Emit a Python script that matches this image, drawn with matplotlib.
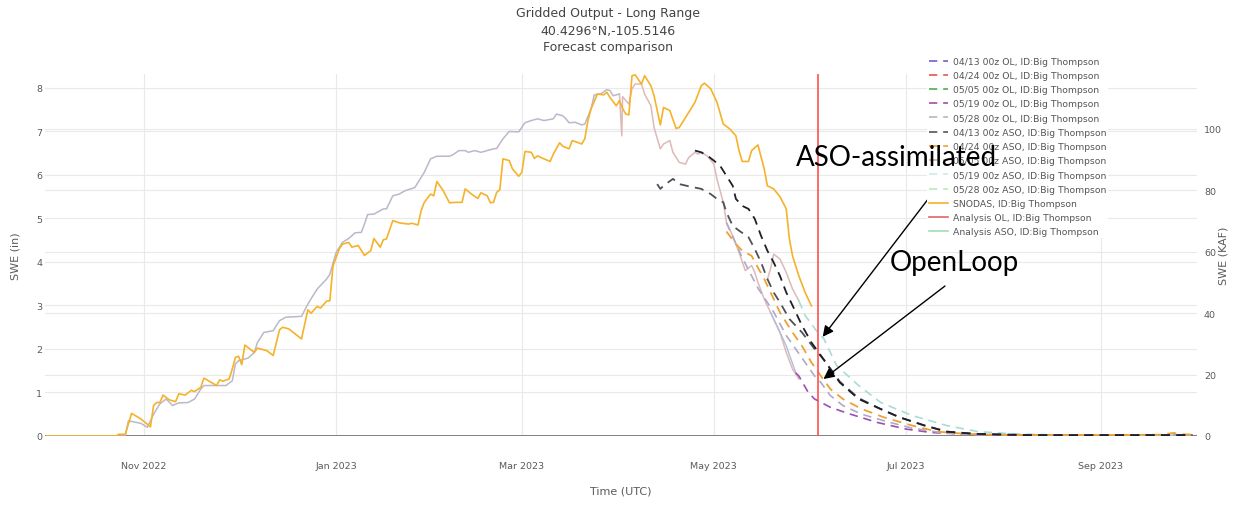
import matplotlib
matplotlib.use("Agg")
import matplotlib.pyplot as plt
import matplotlib.dates as mdates
from matplotlib.lines import Line2D
import pandas as pd

# ---------------- data ----------------
snodas_dates = ["2022-10-01","2022-10-23","2022-10-24","2022-10-26","2022-10-28","2022-10-31","2022-11-03","2022-11-04","2022-11-05","2022-11-06","2022-11-07","2022-11-09","2022-11-11","2022-11-12","2022-11-14","2022-11-16","2022-11-17","2022-11-19","2022-11-20","2022-11-24","2022-11-25","2022-11-26","2022-11-28","2022-11-29","2022-11-30","2022-12-01","2022-12-02","2022-12-03","2022-12-06","2022-12-07","2022-12-08","2022-12-10","2022-12-12","2022-12-14","2022-12-15","2022-12-17","2022-12-21","2022-12-23","2022-12-24","2022-12-26","2022-12-27","2022-12-29","2022-12-30","2022-12-31","2023-01-02","2023-01-03","2023-01-05","2023-01-06","2023-01-08","2023-01-10","2023-01-12","2023-01-13","2023-01-15","2023-01-16","2023-01-17","2023-01-19","2023-01-21","2023-01-24","2023-01-25","2023-01-27","2023-01-28","2023-01-29","2023-01-31","2023-02-01","2023-02-02","2023-02-04","2023-02-06","2023-02-08","2023-02-10","2023-02-11","2023-02-13","2023-02-15","2023-02-16","2023-02-18","2023-02-19","2023-02-20","2023-02-21","2023-02-22","2023-02-23","2023-02-25","2023-02-26","2023-02-28","2023-03-01","2023-03-02","2023-03-04","2023-03-05","2023-03-06","2023-03-08","2023-03-10","2023-03-11","2023-03-13","2023-03-14","2023-03-16","2023-03-17","2023-03-19","2023-03-20","2023-03-21","2023-03-22","2023-03-23","2023-03-25","2023-03-27","2023-03-28","2023-03-29","2023-03-31","2023-04-01","2023-04-02","2023-04-03","2023-04-04","2023-04-05","2023-04-06","2023-04-08","2023-04-09","2023-04-11","2023-04-12","2023-04-14","2023-04-15","2023-04-17","2023-04-19","2023-04-20","2023-04-22","2023-04-25","2023-04-27","2023-04-28","2023-04-30","2023-05-02","2023-05-04","2023-05-06","2023-05-08","2023-05-09","2023-05-10","2023-05-12","2023-05-13","2023-05-15","2023-05-17","2023-05-18","2023-05-20","2023-05-22","2023-05-24","2023-05-25","2023-05-26","2023-05-28","2023-05-30","2023-06-01"]
snodas_swe = [0,0,0.04,0.04,0.52,0.39,0.21,0.70,0.77,0.77,0.94,0.83,0.79,0.97,0.94,1.05,1.02,1.12,1.33,1.16,1.29,1.26,1.31,1.54,1.81,1.83,1.64,2.09,1.92,2.02,2.00,1.96,1.85,2.44,2.50,2.46,2.23,2.90,2.82,2.98,2.94,3.10,3.11,3.91,4.30,4.41,4.45,4.34,4.38,4.15,4.26,4.54,4.34,4.51,4.53,4.95,4.90,4.87,4.89,4.85,5.18,5.37,5.56,5.52,5.85,5.64,5.36,5.37,5.37,5.68,5.56,5.46,5.59,5.52,5.36,5.37,5.60,5.66,6.37,6.33,6.14,5.97,6.06,6.54,6.52,6.38,6.44,6.37,6.31,6.48,6.74,6.66,6.60,6.79,6.74,6.71,6.83,7.25,7.52,7.86,7.84,7.90,7.78,7.59,7.71,7.53,7.40,7.38,8.28,8.30,8.09,8.28,8.05,7.82,7.15,7.55,7.48,7.07,7.09,7.32,7.67,8.05,8.11,7.98,7.67,7.17,7.06,6.90,6.56,6.31,6.31,6.56,6.69,6.14,5.75,5.68,5.50,5.22,4.53,4.14,3.68,3.30,2.99]

analysis_dates = ["2022-10-01","2022-10-26","2022-10-27","2022-10-31","2022-11-02","2022-11-04","2022-11-06","2022-11-08","2022-11-10","2022-11-12","2022-11-15","2022-11-17","2022-11-19","2022-11-20","2022-11-27","2022-11-29","2022-11-30","2022-12-01","2022-12-04","2022-12-06","2022-12-07","2022-12-09","2022-12-12","2022-12-14","2022-12-16","2022-12-21","2022-12-23","2022-12-24","2022-12-26","2022-12-29","2022-12-30","2023-01-01","2023-01-03","2023-01-05","2023-01-07","2023-01-09","2023-01-10","2023-01-11","2023-01-13","2023-01-16","2023-01-17","2023-01-19","2023-01-21","2023-01-23","2023-01-26","2023-01-29","2023-01-31","2023-02-02","2023-02-06","2023-02-07","2023-02-09","2023-02-11","2023-02-12","2023-02-14","2023-02-16","2023-02-18","2023-02-20","2023-02-21","2023-02-23","2023-02-25","2023-02-28","2023-03-02","2023-03-04","2023-03-06","2023-03-08","2023-03-11","2023-03-12","2023-03-14","2023-03-15","2023-03-16","2023-03-18","2023-03-20","2023-03-21","2023-03-23","2023-03-24","2023-03-26","2023-03-28","2023-03-29","2023-03-30","2023-04-01"]
analysis_swe = [0,0,0.35,0.29,0.20,0.50,0.74,0.85,0.70,0.76,0.77,0.85,1.08,1.16,1.16,1.27,1.66,1.73,1.79,1.92,2.15,2.38,2.42,2.65,2.73,2.75,3.03,3.15,3.38,3.61,3.72,4.22,4.45,4.54,4.67,4.68,4.87,5.09,5.10,5.22,5.22,5.52,5.56,5.64,5.71,6.06,6.37,6.43,6.43,6.46,6.56,6.56,6.52,6.56,6.52,6.56,6.60,6.61,6.83,7.00,6.99,7.20,7.25,7.29,7.25,7.29,7.40,7.36,7.29,7.20,7.21,7.15,7.17,7.52,7.84,7.86,7.96,7.94,7.82,7.86]

ol_analysis_dates = ["2023-04-01","2023-04-01 18:00","2023-04-02","2023-04-03","2023-04-04","2023-04-05","2023-04-06","2023-04-08","2023-04-09","2023-04-11","2023-04-12","2023-04-14","2023-04-15","2023-04-17","2023-04-18","2023-04-20","2023-04-22","2023-04-23","2023-04-25","2023-04-26","2023-04-27","2023-04-29","2023-05-01","2023-05-02","2023-05-04","2023-05-05","2023-05-07","2023-05-09","2023-05-11","2023-05-13","2023-05-14","2023-05-15","2023-05-17","2023-05-19","2023-05-22","2023-05-24","2023-05-26","2023-05-28"]
ol_analysis_swe = [7.86,6.90,7.80,7.71,7.63,7.98,8.09,8.09,7.86,7.59,7.09,6.60,6.71,6.79,6.52,6.29,6.25,6.40,6.52,6.48,6.52,6.43,6.25,5.90,5.37,4.91,4.60,4.22,3.80,3.92,3.76,3.53,3.15,2.84,2.38,1.92,1.54,1.31]

aso_analysis_dates = ["2023-05-18","2023-05-19","2023-05-20","2023-05-22","2023-05-24","2023-05-26","2023-05-28"]
aso_analysis_swe = [3.60,3.84,4.18,4.07,3.76,3.38,3.11]

ol2_analysis_dates = ["2023-05-19","2023-05-21","2023-05-24","2023-05-27"]
ol2_analysis_swe = [2.84,2.54,2.07,1.46]

aso0413_dates = ["2023-04-13","2023-04-14","2023-04-15","2023-04-18","2023-04-20","2023-04-23","2023-04-27","2023-04-30","2023-05-02","2023-05-04","2023-05-05","2023-05-07","2023-05-09","2023-05-12","2023-05-14","2023-05-16","2023-05-18","2023-05-20","2023-05-22","2023-05-25","2023-05-29","2023-06-02","2023-06-05","2023-06-10","2023-06-16","2023-06-23","2023-06-29","2023-07-07","2023-07-14","2023-07-23","2023-08-05","2023-09-30"]
aso0413_swe = [5.79,5.68,5.75,5.91,5.79,5.74,5.68,5.56,5.45,5.37,5.14,4.83,4.72,4.57,4.30,3.99,3.61,3.30,3.07,2.69,2.38,2.00,1.75,1.25,0.87,0.62,0.43,0.24,0.10,0.05,0.02,0.02]

aso0424_dates = ["2023-04-25","2023-04-27","2023-04-29","2023-05-01","2023-05-03","2023-05-05","2023-05-07","2023-05-08","2023-05-10","2023-05-12","2023-05-14","2023-05-16","2023-05-18","2023-05-20","2023-05-22","2023-05-24","2023-05-26","2023-05-29","2023-06-01","2023-06-04","2023-06-10","2023-06-16","2023-06-23","2023-06-29","2023-07-07","2023-07-14","2023-07-23","2023-08-10","2023-09-30"]
aso0424_swe = [6.56,6.52,6.44,6.33,6.21,5.98,5.75,5.45,5.29,5.22,4.99,4.60,4.26,3.99,3.68,3.30,3.00,2.54,2.15,1.85,1.23,0.85,0.62,0.43,0.24,0.10,0.05,0.02,0.02]

ol0505_dates = ["2023-05-05","2023-05-08","2023-05-10","2023-05-13","2023-05-15","2023-05-17","2023-05-20","2023-05-22","2023-05-24","2023-05-26","2023-05-29","2023-06-01","2023-06-04","2023-06-07","2023-06-11","2023-06-17","2023-06-24","2023-07-03","2023-07-11","2023-07-20","2023-08-01","2023-09-01","2023-09-20","2023-09-24","2023-09-27","2023-09-30"]
ol0505_swe = [4.70,4.41,4.26,4.14,3.87,3.61,3.15,2.84,2.61,2.38,2.07,1.69,1.38,1.08,0.85,0.62,0.43,0.24,0.10,0.05,0.02,0.02,0.03,0.07,0.04,0.03]

ol0513_dates = ["2023-05-05","2023-05-10","2023-05-15","2023-05-20","2023-05-24","2023-05-27","2023-05-30","2023-06-02","2023-06-04","2023-06-07","2023-06-11","2023-06-17","2023-06-25","2023-07-03","2023-07-12","2023-07-22","2023-09-30"]
ol0513_swe = [4.90,4.10,3.40,2.85,2.31,2.00,1.69,1.38,1.23,0.93,0.70,0.50,0.33,0.18,0.08,0.03,0.02]

ol0528_dates = ["2023-05-27","2023-05-28","2023-05-31","2023-06-02","2023-06-07","2023-06-13","2023-06-22","2023-07-01","2023-07-09","2023-07-18","2023-08-01","2023-09-30"]
ol0528_swe = [1.45,1.38,1.00,0.85,0.66,0.51,0.31,0.16,0.08,0.05,0.02,0.02]

aso0528_dates = ["2023-05-28","2023-05-30","2023-06-03","2023-06-05","2023-06-07","2023-06-09","2023-06-16","2023-06-23","2023-07-03","2023-07-14","2023-07-24","2023-08-04","2023-08-20","2023-09-30"]
aso0528_swe = [3.11,2.77,2.38,2.23,1.92,1.62,1.16,0.77,0.47,0.24,0.10,0.05,0.02,0.02]

analysis_cut_date = "2023-06-03"

legend_labels = ["04/13 00z OL, ID:Big Thompson","04/24 00z OL, ID:Big Thompson","05/05 00z OL, ID:Big Thompson","05/19 00z OL, ID:Big Thompson","05/28 00z OL, ID:Big Thompson","04/13 00z ASO, ID:Big Thompson","04/24 00z ASO, ID:Big Thompson","05/05 00z ASO, ID:Big Thompson","05/19 00z ASO, ID:Big Thompson","05/28 00z ASO, ID:Big Thompson","SNODAS, ID:Big Thompson","Analysis OL, ID:Big Thompson","Analysis ASO, ID:Big Thompson"]
legend_colors = ["#6f5fd0","#e8554e","#4caf50","#a44ca4","#b8b8b8","#555555","#f0a030","#c8b09a","#cfe9ec","#b8eab8","#f5b22a","#e06666","#9fe0b0"]
legend_dashed = [True]*10 + [False]*3

# ---------------- figure ----------------
W, H = 1249, 506
fig = plt.figure(figsize=(W / 100, H / 100), dpi=100)

def fx(px):
    return px / W

def fy(py):
    return 1 - py / H

ax = fig.add_axes([fx(45), fy(437), fx(1197) - fx(45), fy(75) - fy(437)])
ax2 = ax.twinx()
ax.set_zorder(ax2.get_zorder() + 1)
ax.patch.set_visible(False)

def d(lst):
    return pd.to_datetime(lst, format="ISO8601")

DASH = (0, (5, 3.5))
ax.plot(d(analysis_dates), analysis_swe, color="#bab8ca", lw=1.1, zorder=3)
ax.plot(d(ol_analysis_dates), ol_analysis_swe, color="#dcbab8", lw=1.1, zorder=3)
ax.plot(d(aso_analysis_dates), aso_analysis_swe, color="#dcbab8", lw=1.1, zorder=3)
ax.plot(d(ol2_analysis_dates), ol2_analysis_swe, color="#b2bcd8", lw=1.0, zorder=3)
ax.plot(d(snodas_dates), snodas_swe, color="#f5b22a", lw=1.2, zorder=4)
ax.plot(d(aso0528_dates), aso0528_swe, color="#a9dcd6", lw=1.2, ls=DASH, zorder=5)
ax.plot(d(ol0528_dates), ol0528_swe, color="#9b4fb5", lw=1.2, ls=DASH, zorder=5)
ax.plot(d(ol0513_dates), ol0513_swe, color="#b0a8c8", lw=1.2, ls=DASH, zorder=5)
ax.plot(d(ol0505_dates), ol0505_swe, color="#f0a030", lw=1.3, ls=DASH, zorder=5)
ax.plot(d(aso0413_dates), aso0413_swe, color="#4f4f5a", lw=1.3, ls=DASH, zorder=5)
ax.plot(d(aso0424_dates), aso0424_swe, color="#1f1f2a", lw=1.3, ls=DASH, zorder=6)

ax.axvline(pd.Timestamp(analysis_cut_date), color="#ff5050", lw=1.2, zorder=7)
ax.axhline(0, color="#808080", lw=1.4, zorder=2)

# axes ranges
ax.set_xlim(pd.Timestamp("2022-09-30 12:00"), pd.Timestamp("2023-10-01 12:00"))
ax.set_ylim(0, 8.32)
ax2.set_ylim(0, 117.9)
ax.set_yticks(range(0, 9))
ax2.set_yticks(range(0, 101, 20))
ax.xaxis.set_major_locator(mdates.MonthLocator(bymonth=[1, 3, 5, 7, 9, 11]))
ax.xaxis.set_major_formatter(mdates.DateFormatter("%b %Y"))

grid_kw = dict(color="#e9e9e9", lw=0.8)
ax.grid(True, axis="both", **grid_kw)
ax2.grid(True, axis="y", **grid_kw)
ax.set_axisbelow(True)
ax2.set_axisbelow(True)
for a in (ax, ax2):
    for s in a.spines.values():
        s.set_visible(False)

ax.tick_params(axis="both", length=0, labelsize=6.8, labelcolor="#5a5a5a")
ax.tick_params(axis="x", pad=18)
ax.tick_params(axis="y", pad=2)
ax2.tick_params(axis="y", length=0, labelsize=6.8, labelcolor="#5a5a5a", pad=5)

ax.set_ylabel("SWE (in)", fontsize=8, color="#5a5a5a")
ax.yaxis.set_label_coords(-0.021, 0.5)
ax2.set_ylabel("SWE (KAF)", fontsize=8, color="#5a5a5a")
ax2.yaxis.set_label_coords(1.019, 0.5)
ax.set_xlabel("Time (UTC)", fontsize=8, color="#5a5a5a")
ax.xaxis.set_label_coords(0.5, -0.138)

# title
for txt, py in [("Gridded Output - Long Range", 14), ("40.4296°N,-105.5146", 31), ("Forecast comparison", 48)]:
    fig.text(fx(608), fy(py), txt, ha="center", va="center", fontsize=9, color="#444444")

# legend
handles = [Line2D([], [], color=c, lw=1.2, ls=(DASH if dsh else "-")) for c, dsh in zip(legend_colors, legend_dashed)]
leg = fig.legend(handles, legend_labels, loc="upper left", bbox_to_anchor=(fx(927), fy(56)),
                 fontsize=6.7, frameon=True, framealpha=1.0, edgecolor="none", facecolor="white",
                 labelspacing=0.56, handlelength=2.1, handletextpad=0.5, borderpad=0.2, borderaxespad=0)
for t in leg.get_texts():
    t.set_color("#555555")

# annotations
ann_font = dict(family="Lato", fontsize=20, color="black")
fig.text(fx(896), fy(158), "ASO-assimilated", ha="center", va="center", zorder=20, **ann_font)
fig.text(fx(954), fy(263), "OpenLoop", ha="center", va="center", zorder=20, **ann_font)
arrow_kw = dict(arrowstyle="-|>", color="black", lw=1.0, mutation_scale=16, shrinkA=0, shrinkB=0)
ax.annotate("", xy=(pd.Timestamp("2023-06-04 14:00"), 2.28), xycoords="data",
            xytext=(fx(945), fy(178)), textcoords="figure fraction", arrowprops=arrow_kw, zorder=20)
ax.annotate("", xy=(pd.Timestamp("2023-06-04 20:00"), 1.31), xycoords="data",
            xytext=(fx(945), fy(287)), textcoords="figure fraction", arrowprops=arrow_kw, zorder=20)

fig.savefig("out.png", dpi=100)
